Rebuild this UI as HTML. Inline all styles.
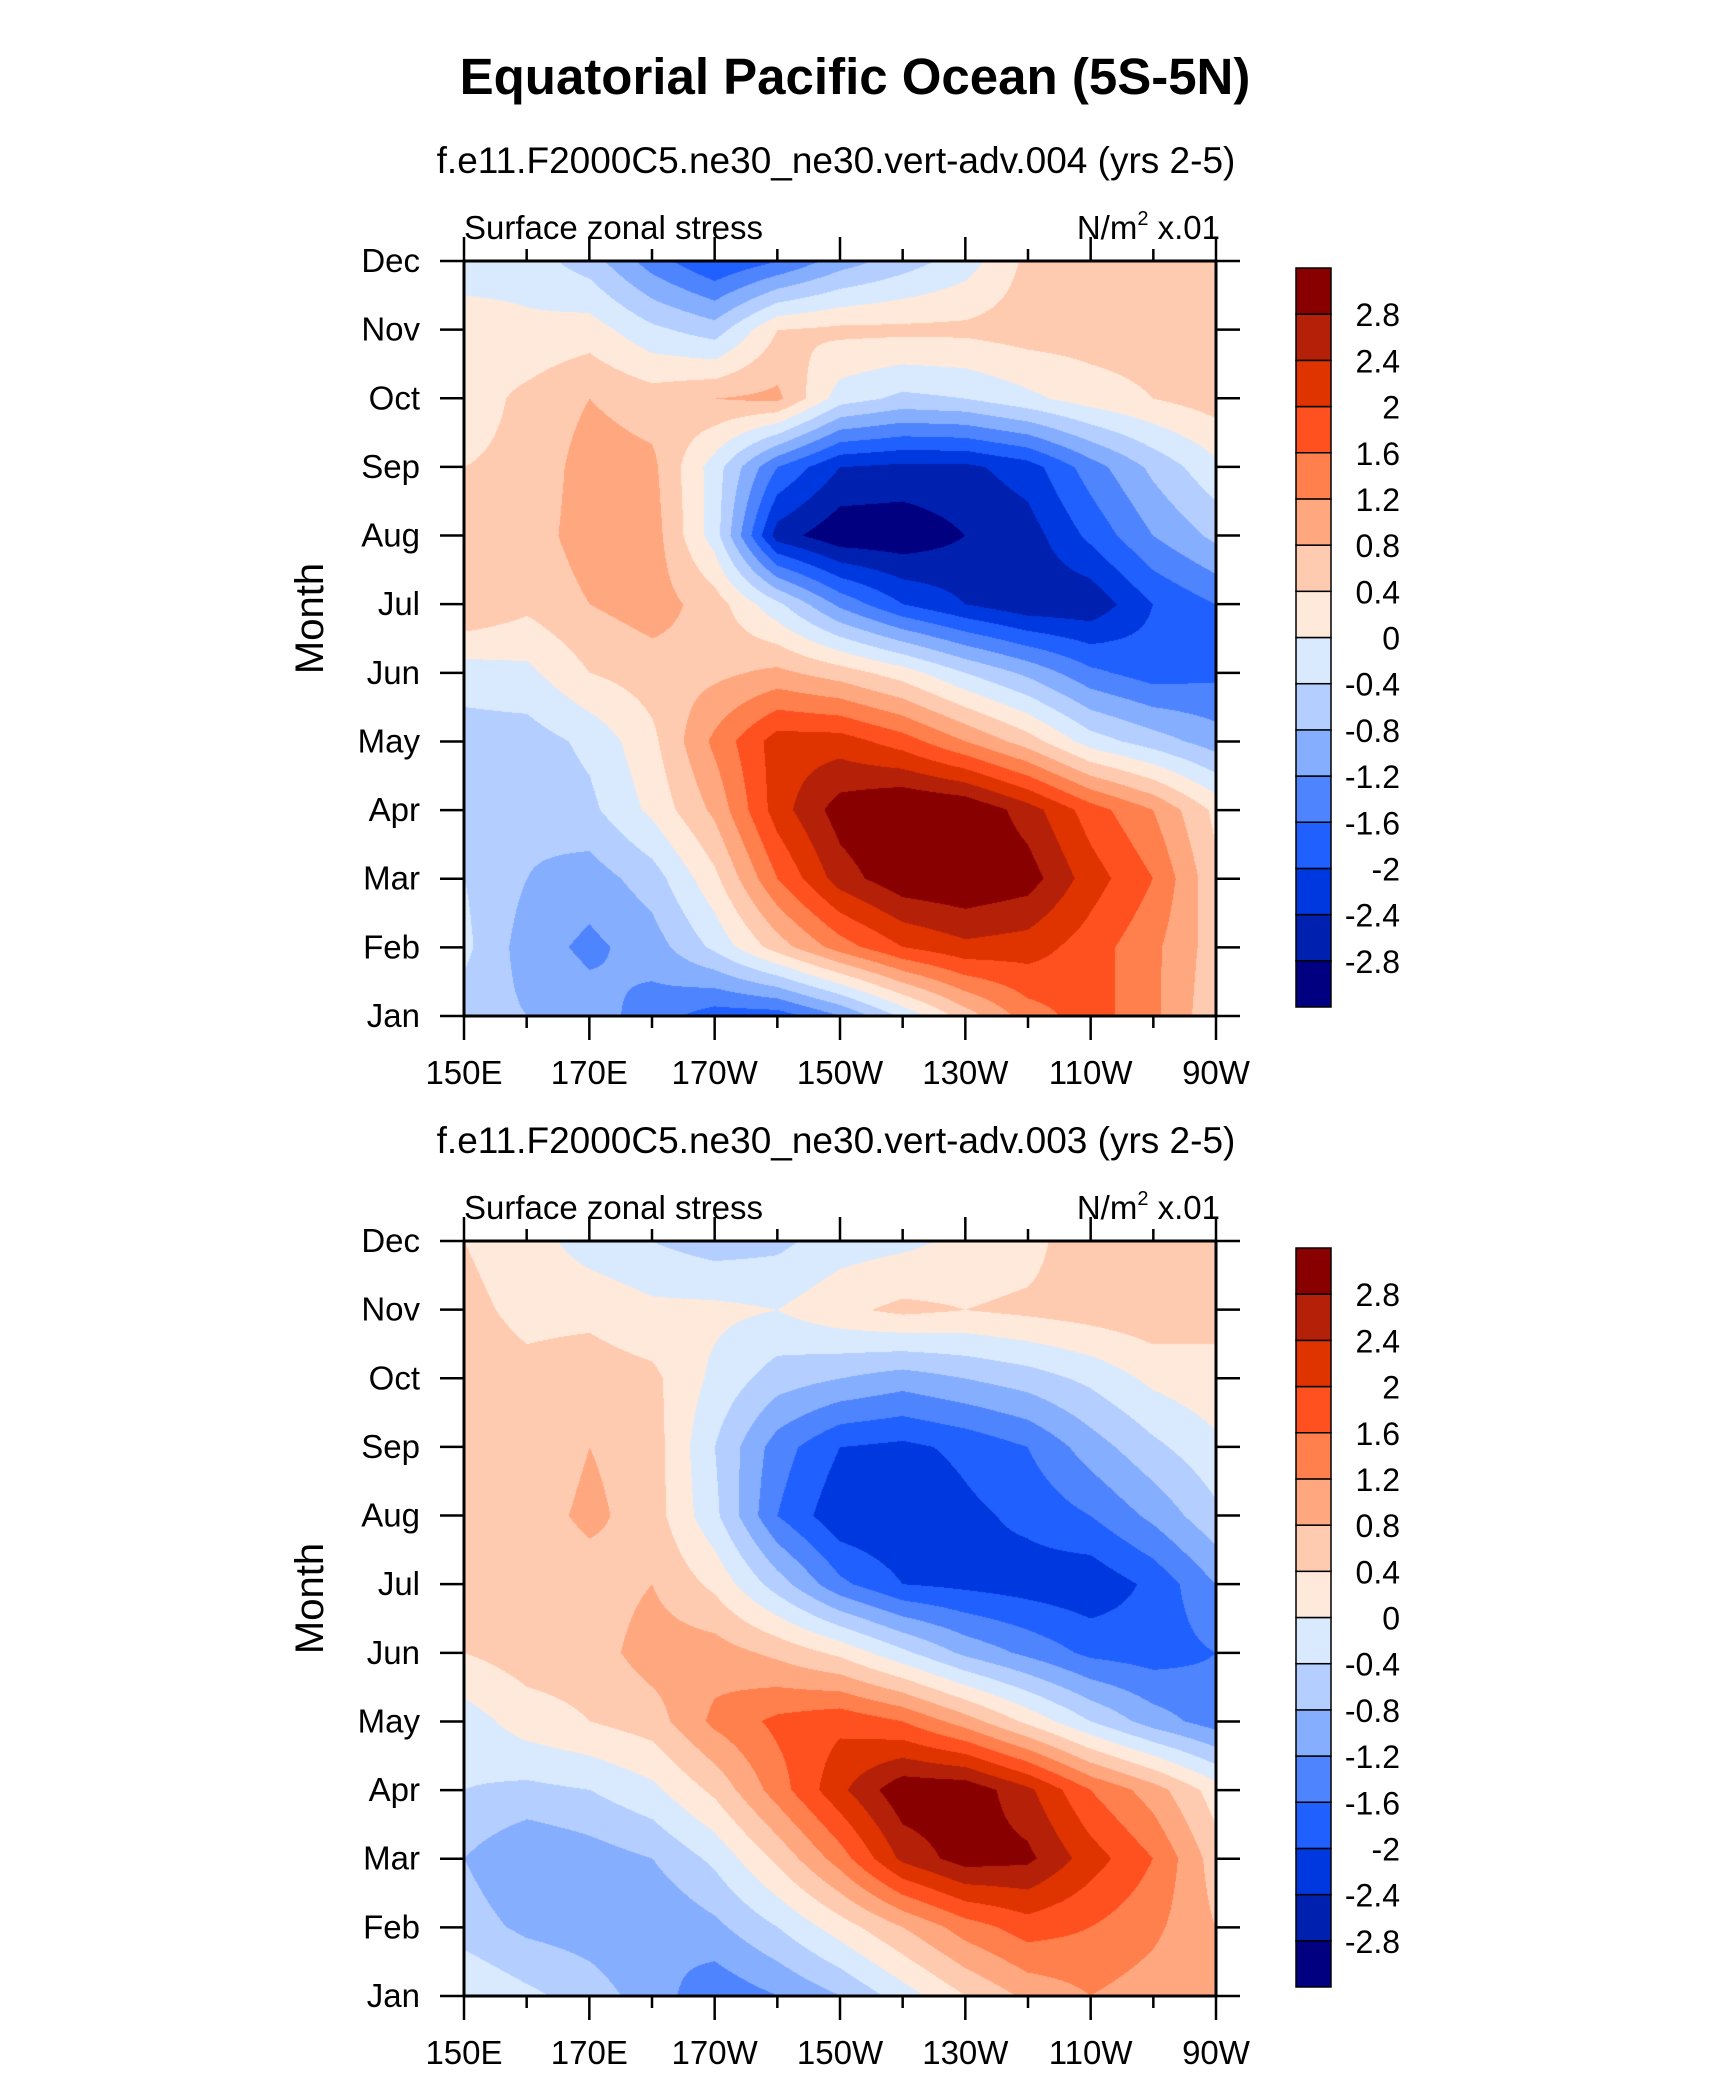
<!DOCTYPE html>
<html><head><meta charset="utf-8"><style>
body{margin:0;background:#fff;width:1710px;height:2080px;position:relative;overflow:hidden;font-family:"Liberation Sans",sans-serif}
canvas{position:absolute}
svg{position:absolute;left:0;top:0}
</style></head><body>
<canvas id="c1" width="752" height="755" style="left:464px;top:261px"></canvas>
<canvas id="c2" width="752" height="755" style="left:464px;top:1241px"></canvas>
<svg id="s" width="1710" height="2080"></svg>
<script>
const months=["Jan","Feb","Mar","Apr","May","Jun","Jul","Aug","Sep","Oct","Nov","Dec"];
const lons=[150,160,170,180,190,200,210,220,230,240,250,260,270];
const lonTickLabels=["150E","170E","170W","150W","130W","110W","90W"];
const levels=[-2.8,-2.4,-2,-1.6,-1.2,-0.8,-0.4,0,0.4,0.8,1.2,1.6,2,2.4,2.8];
const levelLabels=["-2.8","-2.4","-2","-1.6","-1.2","-0.8","-0.4","0","0.4","0.8","1.2","1.6","2","2.4","2.8"];
const colors=["#000080","#0020b0","#0038e0","#2060ff","#4f84ff","#86aeff","#b4cfff","#d9eaff","#ffe9da","#ffcbb0","#ffa880","#ff7f4d","#ff5020","#df3300","#b52008","#880000"];
const field1=[
[-0.6,-0.8,-1.0,-1.4,-1.8,-1.8,-1.2,-0.3,0.6,1.4,1.8,1.3,0.5],
[-0.3,-1.0,-1.3,-1.0,-0.3,0.6,1.4,2.0,2.3,2.2,1.8,1.3,0.6],
[-0.4,-0.8,-1.0,-0.6,0.3,1.6,2.6,3.1,3.2,3.0,2.2,1.6,0.5],
[-0.7,-0.7,-0.5,0.1,0.9,2.2,3.0,3.3,3.2,2.6,1.8,1.2,0.3],
[-0.6,-0.6,-0.3,0.3,1.3,2.2,2.2,1.8,1.2,0.6,-0.2,-0.6,-1.0],
[-0.2,-0.1,0.4,0.6,0.7,0.9,0.6,0.2,-0.4,-0.9,-1.5,-1.8,-1.7],
[0.8,0.5,0.8,1.0,0.6,-0.3,-1.3,-2.0,-2.4,-2.7,-2.7,-2.0,-1.6],
[0.5,0.6,1.0,1.0,-0.2,-2.6,-3.1,-3.1,-2.8,-2.6,-1.9,-1.2,-0.7],
[0.4,0.5,1.0,0.9,-0.2,-1.6,-2.4,-2.5,-2.5,-2.2,-1.4,-0.7,-0.1],
[0.2,0.5,0.8,0.6,0.8,0.9,-0.2,-0.5,-0.4,-0.1,0.2,0.4,0.6],
[0.3,0.1,0.2,-0.3,-0.6,0.4,0.5,0.5,0.5,0.6,0.6,0.6,0.7],
[-0.3,-0.2,-0.6,-1.4,-2.0,-1.6,-1.0,-0.6,-0.2,0.5,0.6,0.6,0.8]];
const field2=[
[0.0,-0.3,-0.6,-1.0,-1.5,-1.2,-0.8,-0.2,0.4,0.9,1.2,1.0,0.8],
[-0.6,-0.9,-1.0,-1.2,-0.9,-0.4,0.2,0.8,1.4,1.8,1.6,1.3,0.8],
[-0.8,-1.2,-1.0,-0.8,-0.3,0.5,1.4,2.5,3.0,2.9,2.2,1.6,0.6],
[-0.4,-0.5,-0.4,-0.1,0.5,1.4,2.3,3.1,3.1,2.5,1.6,1.0,0.2],
[-0.2,0.2,0.4,0.6,1.3,1.7,1.9,1.6,1.0,0.3,-0.4,-1.0,-1.4],
[0.4,0.6,0.6,1.0,1.0,0.7,0.3,-0.3,-0.9,-1.3,-1.7,-1.8,-1.6],
[0.6,0.5,0.6,0.8,0.3,-0.6,-1.5,-2.0,-2.1,-2.2,-2.3,-1.9,-1.2],
[0.6,0.6,0.9,0.6,-0.3,-1.6,-2.3,-2.4,-2.1,-1.9,-1.6,-1.1,-0.5],
[0.5,0.5,0.8,0.6,-0.4,-1.4,-2.0,-2.1,-1.9,-1.6,-1.0,-0.5,-0.1],
[0.6,0.5,0.6,0.5,-0.1,-0.6,-0.8,-1.0,-0.8,-0.6,-0.3,0.1,0.3],
[0.5,0.3,0.3,0.1,0.1,0.0,0.3,0.5,0.4,0.5,0.6,0.7,0.5],
[0.4,0.2,-0.2,-0.4,-0.6,-0.5,-0.2,-0.1,0.1,0.2,0.8,0.8,0.4]];

function hex(c){return [parseInt(c.slice(1,3),16),parseInt(c.slice(3,5),16),parseInt(c.slice(5,7),16)];}
const rgb=colors.map(hex);
function drawField(id,f){
  const cv=document.getElementById(id),ctx=cv.getContext('2d'),W=cv.width,H=cv.height;
  const img=ctx.createImageData(W,H),nx=lons.length-1,ny=months.length-1;
  for(let py=0;py<H;py++){
    const fy=(H-1-py)/(H-1)*ny,j=Math.min(Math.floor(fy),ny-1),ty=fy-j;
    for(let px=0;px<W;px++){
      const fx=px/(W-1)*nx,i=Math.min(Math.floor(fx),nx-1),tx=fx-i;
      const v=f[j][i]*(1-tx)*(1-ty)+f[j][i+1]*tx*(1-ty)+f[j+1][i]*(1-tx)*ty+f[j+1][i+1]*tx*ty;
      let k=0;while(k<levels.length&&v>=levels[k])k++;
      const c=rgb[k],o=(py*W+px)*4;
      img.data[o]=c[0];img.data[o+1]=c[1];img.data[o+2]=c[2];img.data[o+3]=255;
    }
  }
  ctx.putImageData(img,0,0);
}
drawField('c1',field1);drawField('c2',field2);

const S=document.getElementById('s'),NS="http://www.w3.org/2000/svg";
function el(t,a,txt){const e=document.createElementNS(NS,t);for(const k in a)e.setAttribute(k,a[k]);if(txt!=null)e.textContent=txt;S.appendChild(e);return e;}
let e;
e=el('text',{x:855,y:94,'text-anchor':'middle','font-size':51,'font-weight':'bold'},'Equatorial Pacific Ocean (5S-5N)');


const L=464,R=1216,W=R-L;
function panel(top,sub,n){
  const B=top+755,H=755;
  const xs=lon=>L+(lon-150)/120*W, ys=m=>B-m/11*H;
  e=el('text',{x:836,y:top-88,'text-anchor':'middle','font-size':37},sub);
  
  
  e=el('text',{x:L,y:top-22,'font-size':33},'Surface zonal stress');
  
  
  e=el('text',{x:1220,y:top-22,'text-anchor':'end','font-size':33});
  e.innerHTML='N/m<tspan font-size="20" dy="-14">2</tspan><tspan dy="14"> x.01</tspan>';
  
  
  e=el('rect',{x:L,y:top,width:W,height:H,fill:'none',stroke:'#000','stroke-width':3});
  
  
  for(let lon=150;lon<=270;lon+=10){
    const x=xs(lon),mj=(lon-150)%20===0,len=mj?24:12;
    el('line',{x1:x,y1:B,x2:x,y2:B+len,stroke:'#000','stroke-width':2.5});
    el('line',{x1:x,y1:top,x2:x,y2:top-len,stroke:'#000','stroke-width':2.5});
  }
  lonTickLabels.forEach((t,i)=>{
    e=el('text',{x:xs(150+20*i),y:B+68,'text-anchor':'middle','font-size':33},t);
    
    
  });
  months.forEach((m,i)=>{
    const y=ys(i);
    el('line',{x1:L-24,y1:y,x2:L,y2:y,stroke:'#000','stroke-width':2.5});
    el('line',{x1:R,y1:y,x2:R+24,y2:y,stroke:'#000','stroke-width':2.5});
    e=el('text',{x:L-44,y:y+11,'text-anchor':'end','font-size':33},m);
    
    
  });
  e=el('text',{x:0,y:0,'text-anchor':'middle','font-size':40,transform:`translate(323,${top+(H/2)-20}) rotate(-90)`},'Month');
  
  
  const ct=top+7,cb=top+746,ch=(cb-ct)/colors.length;
  for(let k=0;k<colors.length;k++){
    e=el('rect',{x:1296,y:cb-(k+1)*ch,width:35,height:ch,fill:colors[k],stroke:'#000','stroke-width':1.5});
    
    
  }
  levelLabels.forEach((t,k)=>{
    e=el('text',{x:1400,y:cb-(k+1)*ch+12,'text-anchor':'end','font-size':32},t);
    
    
  });
}
panel(261,'f.e11.F2000C5.ne30_ne30.vert-adv.004 (yrs 2-5)',1);
panel(1241,'f.e11.F2000C5.ne30_ne30.vert-adv.003 (yrs 2-5)',2);
</script>
</body></html>
